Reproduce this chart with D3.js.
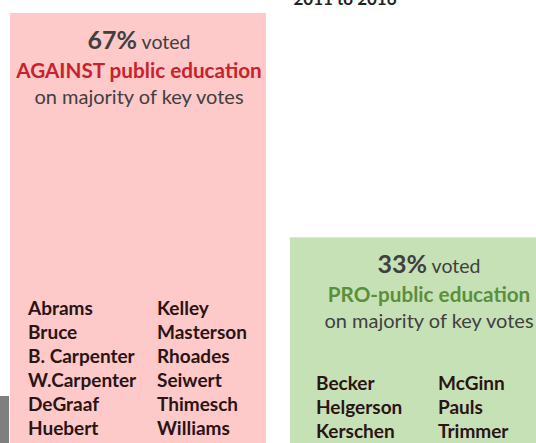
<!DOCTYPE html>
<html>
<head>
<meta charset="utf-8">
<script src="https://cdn.jsdelivr.net/npm/d3@7"></script>
<style>
  html, body { margin: 0; padding: 0; background: #fff; }
  svg { display: block; font-family: Lato, 'Open Sans', sans-serif; }
</style>
</head>
<body>
<div id="chart"></div>
<script>
// vote share, 2011 to 2016
const categories = ['AGAINST', 'PRO'];
const shares = [67, 33];
const headlines = ['AGAINST public education', 'PRO-public education'];
const subline = 'on majority of key votes';
const againstNames = [
  ['Abrams', 'Kelley'],
  ['Bruce', 'Masterson'],
  ['B. Carpenter', 'Rhoades'],
  ['W.Carpenter', 'Seiwert'],
  ['DeGraaf', 'Thimesch'],
  ['Huebert', 'Williams']
];
const proNames = [
  ['Becker', 'McGinn'],
  ['Helgerson', 'Pauls'],
  ['Kerschen', 'Trimmer']
];
const title = '2011 to 2016';

const width = 536, height = 443;
const fills = ['#fdc9c9', '#c7e1b6'];
const headColors = ['#c8222c', '#5b8f3a'];
const barW = [256, 276]; // green box runs off the right edge

const svg = d3.select('#chart').append('svg')
  .attr('width', width)
  .attr('height', height);

const x = d3.scaleBand()
  .domain(categories)
  .range([10, 566])
  .paddingInner(0.0143);

const y = d3.scaleLinear()
  .domain([0, 67])
  .range([455, 13]);

// cut-off title at the top
svg.append('text')
  .attr('x', 345)
  .attr('y', 5)
  .attr('text-anchor', 'middle')
  .attr('font-size', 17)
  .attr('font-weight', 700)
  .attr('fill', '#222')
  .text(title);

// grey sliver of a neighbouring element
svg.append('rect')
  .attr('x', 0).attr('y', 396)
  .attr('width', 9).attr('height', height - 396)
  .attr('fill', '#7f7f7f');

const bars = svg.selectAll('g.bar')
  .data(categories.map((c, i) => ({ c, v: shares[i], i })))
  .enter().append('g')
  .attr('class', 'bar');

bars.append('rect')
  .attr('x', d => x(d.c))
  .attr('y', d => y(d.v))
  .attr('width', d => barW[d.i])
  .attr('height', d => y(0) - y(d.v))
  .attr('fill', d => fills[d.i]);

const cx = d => x(d.c) + barW[d.i] / 2 + 1;

const head = bars.append('text')
  .attr('x', cx)
  .attr('y', d => y(d.v) + 36)
  .attr('text-anchor', 'middle')
  .attr('fill', '#404040');
head.append('tspan')
  .attr('font-size', 25)
  .attr('font-weight', 700)
  .text(d => d.v + '%');
head.append('tspan')
  .attr('font-size', 19.5)
  .text(' voted');

bars.append('text')
  .attr('x', cx)
  .attr('y', d => y(d.v) + 65)
  .attr('text-anchor', 'middle')
  .attr('font-size', 20.7)
  .attr('font-weight', 700)
  .attr('fill', d => headColors[d.i])
  .text(d => headlines[d.i]);

bars.append('text')
  .attr('x', cx)
  .attr('y', d => y(d.v) + 91)
  .attr('text-anchor', 'middle')
  .attr('font-size', 20)
  .attr('fill', '#404040')
  .text(subline);

// name lists, two columns each
function nameBlock(list, cat, inset, top, colGap) {
  const x0 = x(cat) + inset;
  list.forEach((row, r) => {
    row.forEach((nm, k) => {
      svg.append('text')
        .attr('x', x0 + k * colGap)
        .attr('y', top + r * 24)
        .attr('font-size', 19)
        .attr('font-weight', 700)
        .attr('fill', '#2a1414')
        .text(nm);
    });
  });
}
nameBlock(againstNames, 'AGAINST', 18, 315, 129);
nameBlock(proNames, 'PRO', 26, 390, 122);
</script>
</body>
</html>
